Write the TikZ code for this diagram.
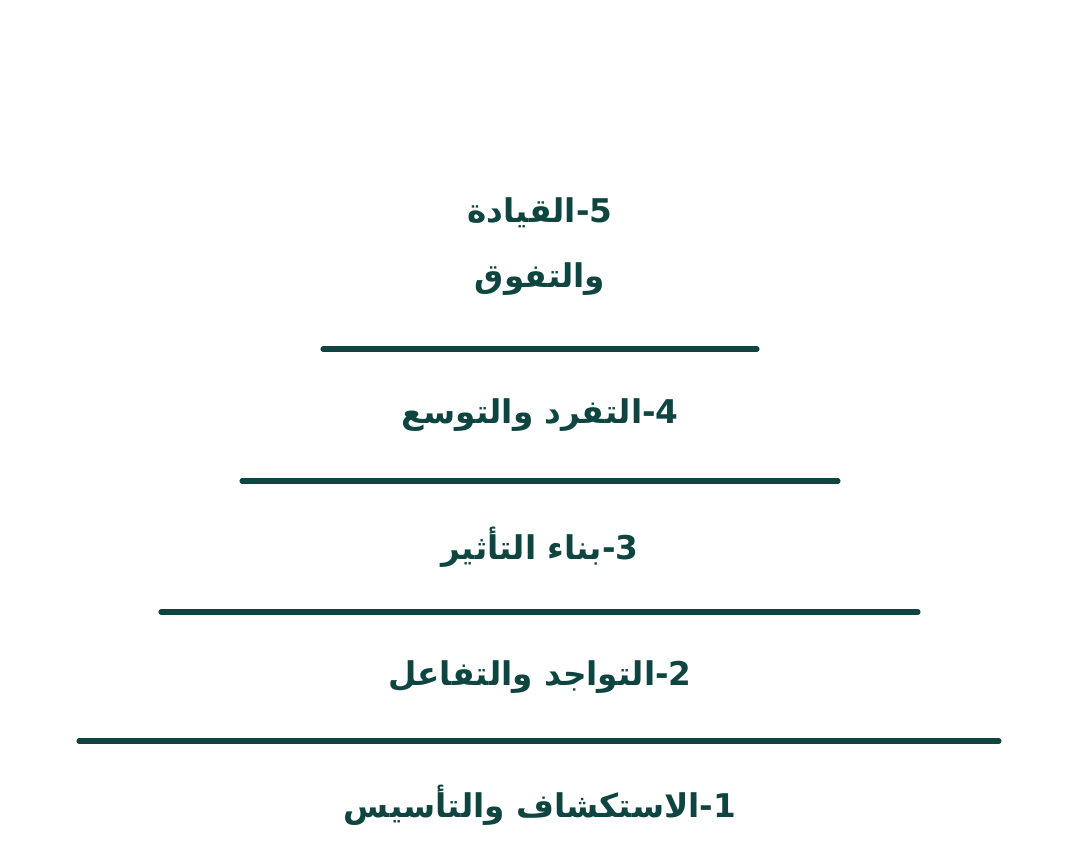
\documentclass[tikz,border=0pt]{standalone}
\usepackage{fontspec}
\usetikzlibrary{positioning}
\TeXXeTstate=1
\newfontfamily\arabicfont[Script=Arabic]{DejaVu Sans}
\definecolor{pyrgreen}{HTML}{0F4540}
\tikzset{
  level/.style={font=\arabicfont\bfseries\fontsize{18.6}{37}\selectfont, text=pyrgreen, align=center},
  bar/.style={line width=2.9pt, line cap=round, draw=pyrgreen}
}

\begin{document}
\begin{tikzpicture}[x=0.02cm,y=-0.02cm]
\useasboundingbox (0,0) rectangle (1080,866);
\draw [bar] (323,349) -- (757,349);
\draw [bar] (242,481) -- (838,481);
\draw [bar] (161,612) -- (918,612);
\draw [bar] (79,741) -- (999,741);
\node [level] (five) at (540,247) {\beginR 5-القيادة\endR\\ \beginR والتفوق\endR};
\node [level] (four) at (540,415) {\beginR 4-التفرد والتوسع\endR};
\node [level] (three) at (540,547) {\beginR 3-بناء التأثير\endR};
\node [level] (two) at (540,677) {\beginR 2-التواجد والتفاعل\endR};
\node [level] (one) at (540,805) {\beginR 1-الاستكشاف والتأسيس\endR};
\end{tikzpicture}
\end{document}
